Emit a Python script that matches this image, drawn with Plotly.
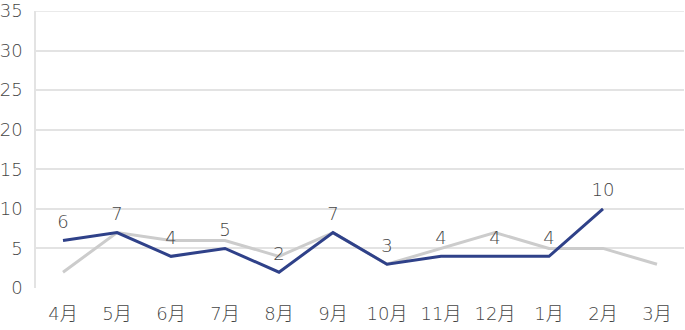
import plotly.graph_objects as go

months = ["4月", "5月", "6月", "7月", "8月", "9月", "10月", "11月", "12月", "1月", "2月", "3月"]
prev_year = [2, 7, 6, 6, 4, 7, 3, 5, 7, 5, 5, 3]
this_year = [6, 7, 4, 5, 2, 7, 3, 4, 4, 4, 10]
y_ticks = [0, 5, 10, 15, 20, 25, 30, 35]

font_family = "DejaVu Sans, Noto Sans CJK JP, sans-serif"
text_color = "#454545"
grid_color = "#E3E3E3"

fig = go.Figure()
fig.add_trace(go.Scatter(
    x=months, y=prev_year, mode="lines",
    line=dict(color="#CCCCCC", width=3),
    hoverinfo="skip", showlegend=False,
))
fig.add_trace(go.Scatter(
    x=months[:len(this_year)], y=this_year, mode="lines+markers+text",
    line=dict(color="#2F4189", width=3),
    marker=dict(size=11, color="rgba(0,0,0,0)"),
    text=[str(v) for v in this_year], textposition="top center",
    textfont=dict(size=18, color=text_color, family=font_family, weight=300),
    hoverinfo="skip", showlegend=False,
))

fig.update_layout(
    width=685, height=330,
    margin=dict(l=36, r=1, t=11, b=42),
    paper_bgcolor="white", plot_bgcolor="white",
    font=dict(family=font_family, size=16, color=text_color),
    xaxis=dict(
        type="category", categoryorder="array", categoryarray=months,
        range=[-0.5, 11.5], showgrid=False, showline=False, zeroline=False,
        ticks="", ticklabelstandoff=13,
        tickfont=dict(size=18, color=text_color, family=font_family, weight=300),
    ),
    yaxis=dict(
        range=[0, 35], tickmode="array", tickvals=y_ticks,
        showgrid=True, gridcolor=grid_color, gridwidth=1.5,
        showline=True, linecolor=grid_color, linewidth=1.5, mirror=False,
        zeroline=False, ticks="", ticklabelstandoff=8,
        tickfont=dict(size=18, color=text_color, family=font_family, weight=300),
    ),
)
fig.add_hline(y=y_ticks[-1], line=dict(color=grid_color, width=1.5))

fig.write_html("out.html")
